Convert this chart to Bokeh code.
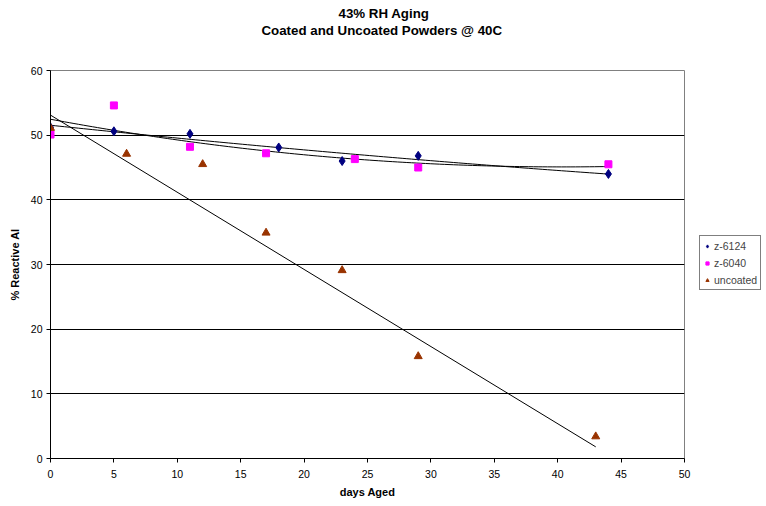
import numpy as np
from bokeh.plotting import figure
from bokeh.models import Range1d, Legend, LegendItem, Title
from bokeh.embed import file_html
from bokeh.resources import INLINE

# ---- data ----
days_6124 = [0, 5, 11, 18, 23, 29, 44]
z6124 = [51.2, 50.6, 50.2, 48.1, 46.0, 46.8, 44.0]
days_6040 = [0, 5, 11, 17, 24, 29, 44]
z6040 = [50.1, 54.6, 48.2, 47.2, 46.3, 45.0, 45.5]
days_unc = [0, 6, 12, 17, 23, 29, 43]
uncoated = [51.1, 47.1, 45.5, 34.9, 29.1, 15.8, 3.4]
# linear trendline of the uncoated series: intercept, slope
uncoated_trend = [53.1, -1.193]
x_ticks = [0, 5, 10, 15, 20, 25, 30, 35, 40, 45, 50]
y_ticks = [0, 10, 20, 30, 40, 50, 60]
title_1 = "43% RH Aging"
title_2 = "Coated and Uncoated Powders @ 40C"

FONT = "Liberation Sans"

p = figure(width=766, height=506, frame_width=634, frame_height=388,
           output_backend="svg", toolbar_location=None,
           x_range=Range1d(0, 50), y_range=Range1d(0, 60),
           min_border_left=50, min_border_right=82, min_border_top=70, min_border_bottom=48,
           background_fill_color="white", border_fill_color="white")

p.outline_line_color = "#808080"
p.xgrid.visible = False
p.ygrid.grid_line_color = "black"
p.ygrid.grid_line_width = 1
p.ygrid.ticker = y_ticks

for ax in (p.xaxis[0], p.yaxis[0]):
    ax.axis_line_color = "black"
    ax.major_tick_line_color = "black"
    ax.minor_tick_line_color = None
    ax.major_tick_in = 0
    ax.major_tick_out = 4
    ax.major_label_text_font = FONT
    ax.major_label_text_font_size = "10.5px"
    ax.major_label_text_color = "black"
    ax.axis_label_text_font = FONT
    ax.axis_label_text_font_size = "11px"
    ax.axis_label_text_font_style = "bold"
    ax.axis_label_text_color = "black"

p.xaxis.ticker = x_ticks
p.yaxis.ticker = y_ticks
p.xaxis.axis_label = "days Aged"
p.yaxis.axis_label = "% Reactive Al"
p.xaxis.major_label_standoff = 7
p.xaxis.axis_label_standoff = 5
p.yaxis.major_label_standoff = 4
p.yaxis.axis_label_standoff = 7

# trendlines
xs1 = np.linspace(min(days_6124), max(days_6124), 120)
c1 = np.polyfit(days_6124, z6124, 2)
p.line(xs1, np.polyval(c1, xs1), line_color="black", line_width=1)
xs2 = np.linspace(min(days_6040), max(days_6040), 120)
c2 = np.polyfit(days_6040, z6040, 2)
p.line(xs2, np.polyval(c2, xs2), line_color="black", line_width=1)
xs3 = np.array([min(days_unc), max(days_unc)], dtype=float)
p.line(xs3, uncoated_trend[0] + uncoated_trend[1] * xs3, line_color="black", line_width=1)

r1 = p.scatter(days_6124, z6124, marker="diamond", size=9, fill_color="#000080", line_color="#000080")
r2 = p.scatter(days_6040, z6040, marker="square", size=7, fill_color="#FF00FF", line_color="#FF00FF")
r3 = p.scatter(days_unc, uncoated, marker="triangle", size=8, fill_color="#993300", line_color="#993300")

legend = Legend(items=[LegendItem(label="z-6124", renderers=[r1]),
                       LegendItem(label="z-6040", renderers=[r2]),
                       LegendItem(label="uncoated", renderers=[r3])],
                location=(15, 168), orientation="vertical",
                label_text_font=FONT, label_text_font_size="10.5px",
                glyph_width=8, glyph_height=8, label_standoff=3,
                label_height=13, spacing=4, padding=3, margin=0,
                border_line_color="black", border_line_width=1,
                background_fill_color="white", background_fill_alpha=1)
p.add_layout(legend, "right")

# titles: spacer nearest the frame, then second line, then first line
p.add_layout(Title(text=" ", text_font_size="1px", standoff=29), "above")
p.add_layout(Title(text=title_2, align="left", offset=211, vertical_align="middle", standoff=0,
                   text_font=FONT, text_font_size="13.3px", text_font_style="bold",
                   text_color="black"), "above")
p.add_layout(Title(text=title_1, align="left", offset=288, vertical_align="middle", standoff=0,
                   text_font=FONT, text_font_size="13.3px", text_font_style="bold",
                   text_color="black"), "above")

open("out.html", "w").write(file_html(p, INLINE))
